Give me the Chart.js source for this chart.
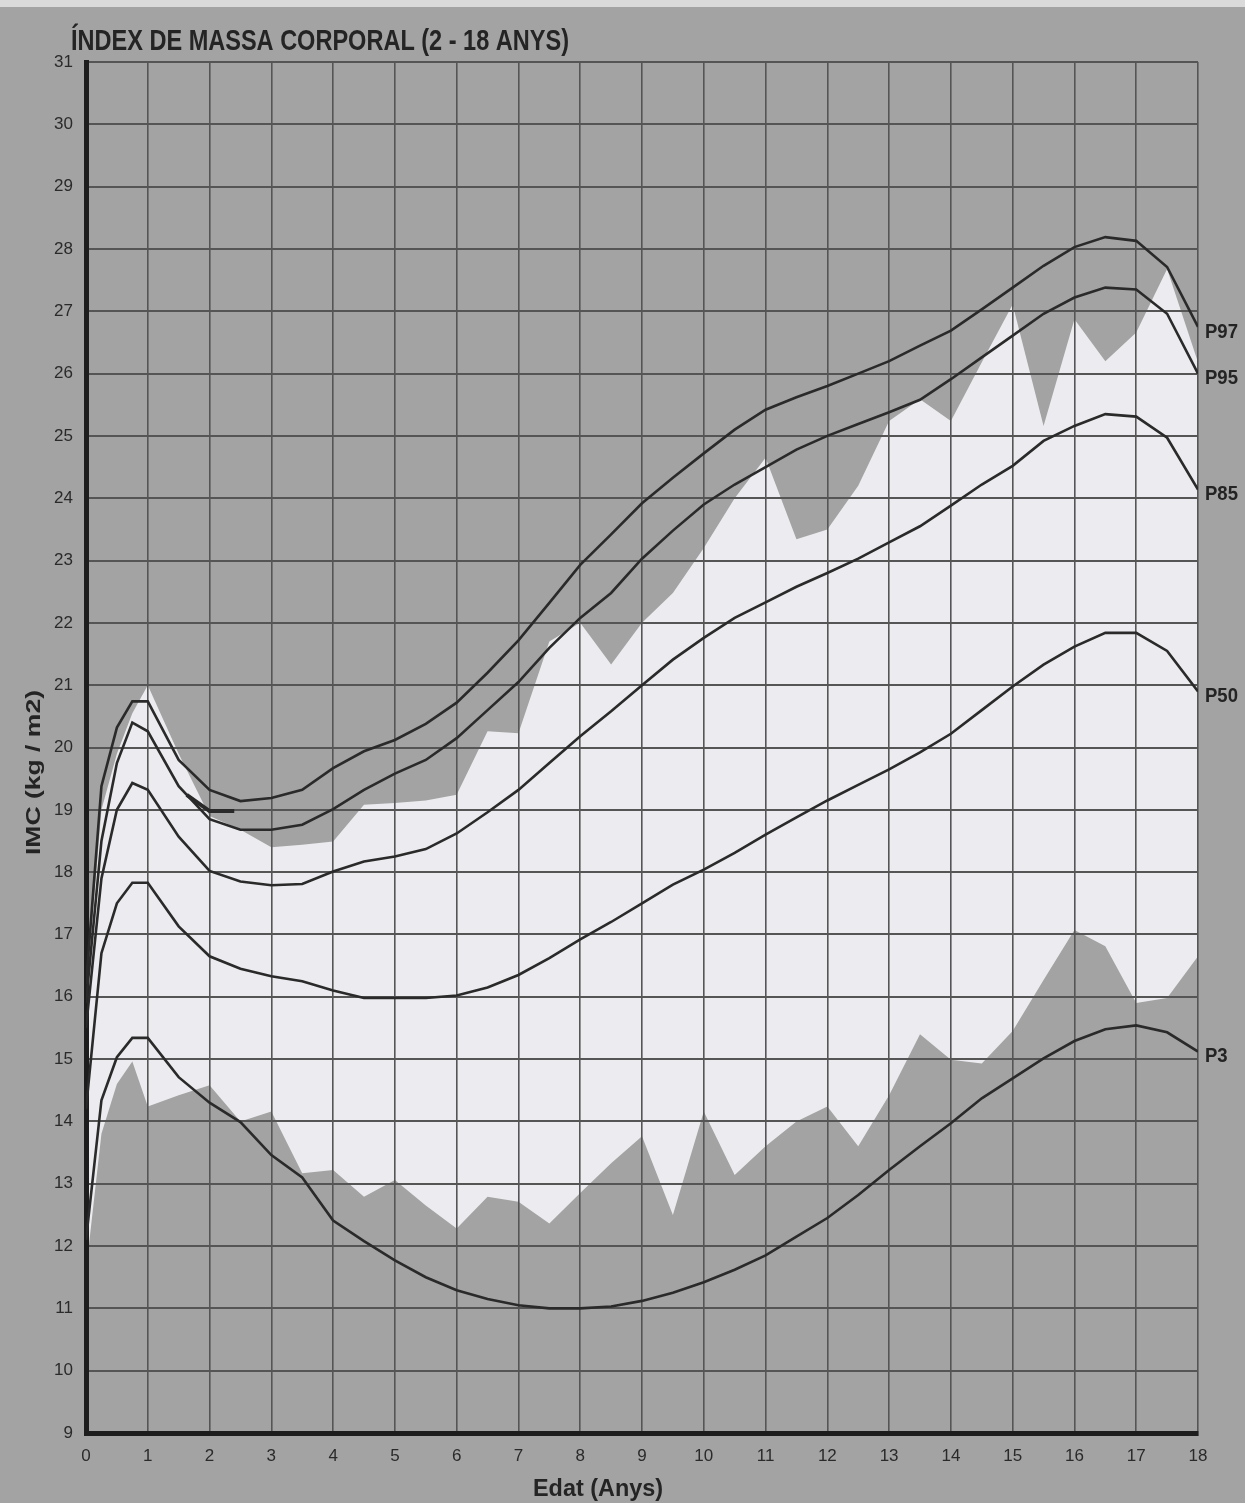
<!DOCTYPE html>
<html lang="ca">
<head>
<meta charset="utf-8">
<title>Índex de massa corporal (2 - 18 anys)</title>
<script src="https://cdn.jsdelivr.net/npm/chart.js@4.4.1/dist/chart.umd.min.js"></script>
<style>
  html, body { margin: 0; padding: 0; background: #a3a3a3; }
  #chart {
    display: block;
    background: linear-gradient(#dadada 0, #dadada 7px, #a3a3a3 7px);
  }
</style>
</head>
<body>
<canvas id="chart" width="1245" height="1503"></canvas>
<script>
// Age (years) at which every curve is sampled
const ages = [0, 0.25, 0.5, 0.75, 1, 1.5, 2, 2.5, 3, 3.5, 4, 4.5, 5, 5.5, 6, 6.5, 7, 7.5, 8, 8.5,
              9, 9.5, 10, 10.5, 11, 11.5, 12, 12.5, 13, 13.5, 14, 14.5, 15, 15.5, 16, 16.5, 17, 17.5, 18];

// BMI percentile curves (kg/m2)
const p97 = [16.2, 19.38, 20.32, 20.74, 20.74, 19.8, 19.32, 19.14, 19.19, 19.32, 19.67, 19.94, 20.12, 20.38,
             20.72, 21.2, 21.72, 22.32, 22.93, 23.42, 23.92, 24.33, 24.72, 25.1, 25.42, 25.62, 25.8, 26.0,
             26.2, 26.45, 26.69, 27.03, 27.38, 27.73, 28.03, 28.19, 28.13, 27.71, 26.75];
const p95 = [15.9, 18.5, 19.75, 20.4, 20.26, 19.38, 18.85, 18.68, 18.68, 18.76, 19.01, 19.32, 19.58, 19.8,
             20.15, 20.6, 21.05, 21.6, 22.08, 22.48, 23.03, 23.48, 23.9, 24.22, 24.5, 24.78, 25.0, 25.19,
             25.38, 25.58, 25.91, 26.26, 26.61, 26.96, 27.22, 27.38, 27.35, 26.96, 26.0];
const p85 = [15.5, 17.9, 19.0, 19.43, 19.32, 18.57, 18.02, 17.85, 17.79, 17.81, 18.01, 18.17, 18.25, 18.37,
             18.62, 18.96, 19.32, 19.75, 20.18, 20.58, 21.0, 21.41, 21.76, 22.08, 22.33, 22.58, 22.8, 23.03,
             23.29, 23.55, 23.88, 24.22, 24.52, 24.92, 25.16, 25.35, 25.31, 24.97, 24.14];
const p50 = [14.2, 16.7, 17.5, 17.83, 17.83, 17.13, 16.65, 16.45, 16.33, 16.25, 16.1, 15.98, 15.98, 15.98,
             16.02, 16.15, 16.35, 16.62, 16.92, 17.2, 17.5, 17.8, 18.04, 18.31, 18.6, 18.88, 19.15, 19.4,
             19.65, 19.92, 20.22, 20.6, 20.98, 21.33, 21.62, 21.84, 21.84, 21.55, 20.9];
const p3  = [12.1, 14.34, 15.03, 15.34, 15.34, 14.71, 14.3, 13.99, 13.46, 13.1, 12.41, 12.08, 11.77, 11.5,
             11.29, 11.15, 11.05, 11.0, 11.0, 11.03, 11.12, 11.25, 11.42, 11.62, 11.85, 12.15, 12.45, 12.82,
             13.22, 13.6, 13.97, 14.37, 14.69, 15.01, 15.29, 15.48, 15.54, 15.43, 15.12];

// Light band: observed spread of the sample (upper and lower edges)
const bandTop    = [16.0, 19.0, 19.9, 20.55, 21.0, 19.9, 18.9, 18.68, 18.4, 18.44, 18.49, 19.08, 19.11, 19.15,
                    19.24, 20.26, 20.23, 21.7, 22.0, 21.33, 22.0, 22.48, 23.2, 24.0, 24.65, 23.34, 23.5, 24.2,
                    25.24, 25.59, 25.24, 26.18, 27.11, 25.16, 26.87, 26.2, 26.66, 27.68, 26.18];
const bandBottom = [11.6, 13.8, 14.6, 14.96, 14.24, 14.42, 14.58, 14.0, 14.16, 13.17, 13.22, 12.79, 13.06, 12.65,
                    12.28, 12.79, 12.71, 12.36, 12.85, 13.33, 13.76, 12.5, 14.16, 13.14, 13.6, 14.0, 14.24, 13.6,
                    14.42, 15.4, 14.99, 14.93, 15.45, 16.27, 17.07, 16.81, 15.9, 15.98, 16.65];

// Short extra stroke near age 2
const stubAges   = [1.63, 2.0, 2.4];
const stubValues = [19.24, 18.98, 18.98];

// Axis ranges
const ageMin = 0, ageMax = 18;
const bmiMin = 9, bmiMax = 31;

const curveNames  = ['P97', 'P95', 'P85', 'P50', 'P3'];
const curveValues = [p97, p95, p85, p50, p3];

const TITLE   = 'ÍNDEX DE MASSA CORPORAL (2 - 18 ANYS)';
const X_TITLE = 'Edat (Anys)';
const Y_TITLE = 'IMC (kg / m2)';

const INK = '#2a2a2a';
const NARROW = "'Liberation Sans Narrow', 'Arial Narrow', 'Liberation Sans', Arial, sans-serif";

function points(xs, ys) {
  return xs.map((x, i) => ({ x: x, y: ys[i] }));
}

// Draw text squeezed horizontally so it spans the given width
function fitText(ctx, text, x, y, font, width, rotate) {
  ctx.save();
  ctx.font = font;
  const w = ctx.measureText(text).width;
  ctx.translate(x, y);
  if (rotate) ctx.rotate(rotate);
  ctx.scale(width / w, 1);
  ctx.textAlign = 'left';
  ctx.textBaseline = 'alphabetic';
  ctx.fillText(text, 0, 0);
  ctx.restore();
}

const textLayer = {
  id: 'textLayer',
  afterDraw(chart) {
    const { ctx, chartArea, scales } = chart;
    ctx.save();
    ctx.fillStyle = '#242424';
    fitText(ctx, TITLE, 71, 50, 'bold 30px ' + NARROW, 498);
    fitText(ctx, X_TITLE, 533, 1496, 'bold 23px ' + NARROW, 130);
    fitText(ctx, Y_TITLE, 40, 855, 'bold 21px ' + NARROW, 165, -Math.PI / 2);

    // percentile names at the end of each curve
    ctx.font = 'bold 21px ' + NARROW;
    const ref = ctx.measureText('P97').width;
    const sx = 33 / ref;
    curveNames.forEach((name, i) => {
      const vals = curveValues[i];
      const y = scales.y.getPixelForValue(vals[vals.length - 1]) + 5;
      ctx.save();
      ctx.translate(chartArea.right + 7, y);
      ctx.scale(sx, 1);
      ctx.textAlign = 'left';
      ctx.textBaseline = 'middle';
      ctx.fillText(name, 0, 0);
      ctx.restore();
    });
    ctx.restore();
  }
};

const curveSets = curveNames.map((name, i) => ({
  label: name,
  data: points(ages, curveValues[i]),
  borderColor: INK,
  borderWidth: 2.6,
  pointRadius: 0,
  tension: 0,
  fill: false
}));

new Chart(document.getElementById('chart'), {
  type: 'line',
  data: {
    datasets: [
      {
        label: 'band top',
        data: points(ages, bandTop),
        borderColor: 'transparent',
        borderWidth: 0,
        pointRadius: 0,
        tension: 0,
        backgroundColor: '#ececf0',
        fill: '+1'
      },
      {
        label: 'band bottom',
        data: points(ages, bandBottom),
        borderColor: 'transparent',
        borderWidth: 0,
        pointRadius: 0,
        tension: 0,
        fill: false
      },
      ...curveSets,
      {
        label: 'stub',
        data: points(stubAges, stubValues),
        borderColor: INK,
        borderWidth: 4,
        pointRadius: 0,
        tension: 0,
        fill: false
      }
    ]
  },
  options: {
    responsive: false,
    animation: false,
    devicePixelRatio: 1,
    layout: { padding: { top: 62, right: 47, bottom: 0, left: 0 } },
    plugins: {
      legend: { display: false },
      tooltip: { enabled: false },
      title: { display: false },
      filler: { drawTime: 'beforeDraw' }
    },
    scales: {
      x: {
        type: 'linear',
        min: ageMin,
        max: ageMax,
        ticks: {
          stepSize: 1,
          autoSkip: false,
          maxRotation: 0,
          padding: 13,
          color: '#2a2a2a',
          font: { family: NARROW, size: 17 }
        },
        grid: { color: '#555555', lineWidth: 1.6, drawTicks: false },
        border: { display: true, color: '#1d1d1d', width: 5 },
        afterFit(scale) { scale.height = 70; }
      },
      y: {
        type: 'linear',
        min: bmiMin,
        max: bmiMax,
        ticks: {
          stepSize: 1,
          padding: 13,
          color: '#2a2a2a',
          font: { family: NARROW, size: 17 }
        },
        grid: { color: '#555555', lineWidth: 2, drawTicks: false },
        border: { display: true, color: '#1d1d1d', width: 5 },
        afterFit(scale) { scale.width = 86; }
      }
    }
  },
  plugins: [textLayer]
});
</script>
</body>
</html>
